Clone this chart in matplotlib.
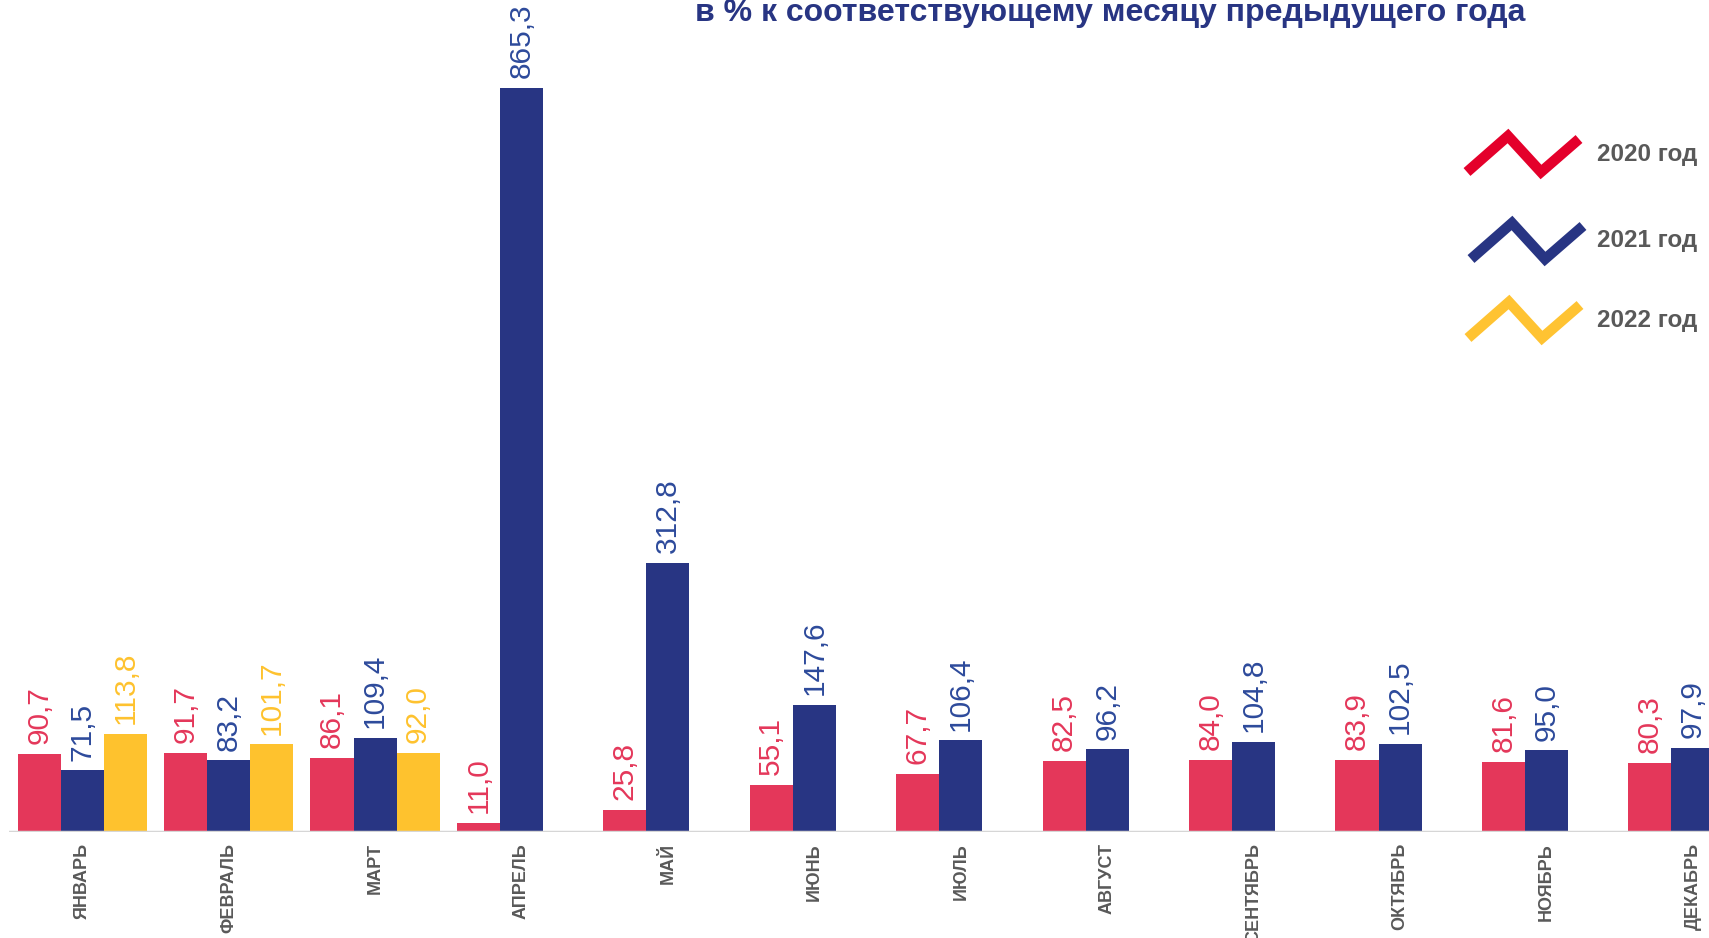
import numpy as np
import matplotlib.pyplot as plt
from matplotlib.lines import Line2D

months = ['ЯНВАРЬ', 'ФЕВРАЛЬ', 'МАРТ', 'АПРЕЛЬ', 'МАЙ', 'ИЮНЬ', 'ИЮЛЬ',
          'АВГУСТ', 'СЕНТЯБРЬ', 'ОКТЯБРЬ', 'НОЯБРЬ', 'ДЕКАБРЬ']
v2020 = [90.7, 91.7, 86.1, 11.0, 25.8, 55.1, 67.7, 82.5, 84.0, 83.9, 81.6, 80.3]
v2021 = [71.5, 83.2, 109.4, 865.3, 312.8, 147.6, 106.4, 96.2, 104.8, 102.5, 95.0, 97.9]
v2022 = [113.8, 101.7, 92.0]
years = ['2020 год', '2021 год', '2022 год']

bar_colors = ['#E4375A', '#283583', '#FEC22E']
text_colors = ['#E4375A', '#2D4A9B', '#FEC22E']
legend_colors = ['#E4002B', '#283583', '#FFC332']
title = 'в % к соответствующему месяцу предыдущего года'

plt.rcParams['font.family'] = ['Liberation Sans', 'DejaVu Sans']

W, H = 1709, 938
fig = plt.figure(figsize=(W / 100, H / 100), dpi=100)
ax = fig.add_axes([9 / W, 1 - 832 / H, 1700 / W, 832 / H])

width = 0.294
x = np.arange(len(months))
series = [v2020, v2021, v2022]
for k, vals in enumerate(series):
    xs = x[:len(vals)] + (k - 1) * width
    ax.bar(xs, vals, width=width, color=bar_colors[k], zorder=2)
    for xi, v in zip(xs, vals):
        ax.annotate(f'{v:.1f}'.replace('.', ','), (xi, v), xytext=(0, 7),
                    textcoords='offset points', rotation=90, ha='center',
                    va='bottom', fontsize=21.5, color=text_colors[k])

ax.axhline(0, color='#D6D6D6', lw=2.5, zorder=3)
ax.set_xlim(-0.5, 11.11)
ax.set_ylim(0, 967)
ax.axis('off')

for xi, m in zip(x, months):
    ax.annotate(m, (xi, 0), xytext=(0, -8), textcoords='offset points',
                rotation=90, ha='center', va='top', fontsize=13,
                fontweight='bold', color='#595959')

fig.text(1110 / W, 1 - 13 / H, title, ha='center', va='center',
         fontsize=23, fontweight='bold', color='#283583',
         family=['Liberation Sans Narrow', 'Liberation Sans'])

# legend: zigzag glyphs
leg_y = [154, 241, 320]
leg_x = [1467, 1471, 1468]
for k, (yc, x0, lab) in enumerate(zip(leg_y, leg_x, years)):
    px = x0 + np.array([0, 41, 74, 112])
    py = np.array([yc + 18, yc - 18, yc + 18, yc - 15])
    fig.add_artist(Line2D(px / W, 1 - py / H, transform=fig.transFigure,
                          color=legend_colors[k], lw=7.5,
                          solid_joinstyle='miter', solid_capstyle='butt'))
    fig.text(1597 / W, 1 - yc / H, lab, ha='left', va='center',
             fontsize=17.5, fontweight='bold', color='#595959')

fig.savefig('out.png', dpi=100)
